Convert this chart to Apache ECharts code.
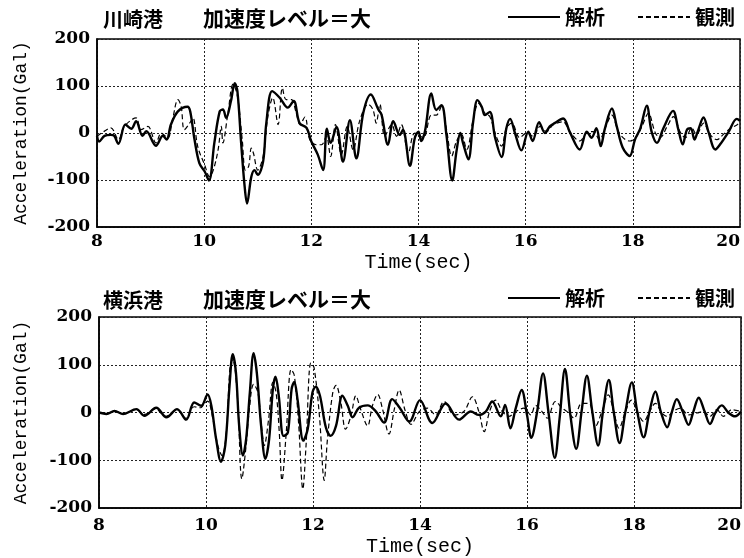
<!DOCTYPE html>
<html>
<head>
<meta charset="utf-8">
<script src="https://cdn.jsdelivr.net/npm/echarts@6/dist/echarts.min.js"></script>
<style>
html,body{margin:0;padding:0;background:#fff;}
#chart{width:744px;height:558px;}
</style>
</head>
<body>
<div id="chart"></div>
<script>
// ---- data (time in sec, acceleration in Gal) ----
const titlePort = ['川崎港', '横浜港'];
const titleLevel = '加速度レベル＝大';
const seriesNames = ['解析', '観測'];
const xTicks = { min: 8, max: 20, interval: 2 };
const yTicks = { min: -200, max: 200, interval: 100 };

// 川崎港 解析 (solid)
const kawasakiCalc = [
[8.00,-6],[8.04,-18],[8.14,-6],[8.26,-4],[8.32,-6],[8.40,-23],[8.53,18],[8.64,9],[8.73,25],[8.85,-6],
[8.92,4],[9.10,-27],[9.23,-6],[9.30,-14],[9.38,18],[9.51,46],[9.69,56],[9.74,46],[9.82,-14],[9.91,-64],
[10.01,-82],[10.09,-101],[10.19,-21],[10.29,46],[10.35,50],[10.41,32],[10.50,68],[10.57,106],[10.62,89],[10.69,-21],
[10.75,-107],[10.80,-150],[10.88,-93],[10.94,-79],[11.00,-89],[11.10,-61],[11.16,21],[11.27,89],[11.41,75],[11.56,54],
[11.67,68],[11.78,21],[11.91,11],[12.00,-18],[12.12,-46],[12.22,-79],[12.29,9],[12.36,-21],[12.47,13],[12.59,-61],
[12.72,27],[12.84,-54],[12.97,43],[13.11,82],[13.25,50],[13.31,39],[13.43,-25],[13.53,25],[13.65,-4],[13.71,7],
[13.84,-70],[13.93,-11],[14.00,3],[14.05,-17],[14.12,3],[14.24,84],[14.33,49],[14.43,59],[14.52,-3],[14.63,-101],
[14.71,-38],[14.78,0],[14.83,-21],[14.93,-56],[15.02,24],[15.10,70],[15.18,56],[15.24,38],[15.33,45],[15.43,-10],
[15.55,-51],[15.64,10],[15.71,30],[15.80,0],[15.92,-37],[16.05,3],[16.13,-17],[16.25,23],[16.36,0],[16.45,14],
[16.54,21],[16.70,31],[16.82,3],[17.01,-35],[17.14,3],[17.23,-10],[17.32,10],[17.40,-28],[17.48,10],[17.61,52],
[17.70,14],[17.81,-31],[17.94,-49],[18.04,-14],[18.14,10],[18.26,58],[18.35,3],[18.45,-21],[18.57,10],[18.75,47],
[18.85,7],[18.93,-24],[19.01,7],[19.08,10],[19.15,-14],[19.21,3],[19.32,33],[19.41,3],[19.54,-35],[19.63,-24],
[19.79,3],[19.94,30],[20.00,26]
];

// 川崎港 観測 (dashed)
const kawasakiObs = [
[8.00,-7],[8.14,4],[8.26,11],[8.40,-14],[8.51,14],[8.73,32],[8.82,7],[8.95,14],[9.10,-21],[9.20,0],
[9.32,-11],[9.41,29],[9.51,71],[9.57,57],[9.63,7],[9.73,21],[9.79,32],[9.88,-29],[10.01,-68],[10.10,-93],
[10.17,-79],[10.26,-36],[10.32,14],[10.35,-21],[10.44,39],[10.54,104],[10.62,79],[10.71,-14],[10.77,-79],[10.83,-71],
[10.88,-32],[10.92,-43],[11.00,-79],[11.10,-50],[11.19,36],[11.28,75],[11.38,18],[11.46,96],[11.53,71],[11.63,71],
[11.71,46],[11.79,18],[11.88,34],[11.97,-14],[12.09,-25],[12.19,-25],[12.28,-7],[12.36,-50],[12.45,18],[12.56,-46],
[12.67,14],[12.78,-36],[12.90,25],[13.06,61],[13.15,50],[13.21,21],[13.28,61],[13.37,-7],[13.50,18],[13.59,-7],
[13.68,18],[13.81,-43],[13.93,0],[14.09,-10],[14.24,38],[14.33,38],[14.43,56],[14.52,10],[14.62,-49],[14.71,-17],
[14.80,-3],[14.90,-35],[15.02,28],[15.12,63],[15.24,42],[15.33,35],[15.46,-10],[15.55,-28],[15.64,10],[15.74,21],
[15.89,-10],[16.02,0],[16.14,-7],[16.27,14],[16.39,3],[16.51,17],[16.70,24],[16.82,3],[17.01,-17],[17.14,0],
[17.26,3],[17.38,-14],[17.48,10],[17.61,38],[17.73,3],[17.86,-14],[17.95,-17],[18.07,-7],[18.17,14],[18.29,42],
[18.42,0],[18.51,-10],[18.64,14],[18.76,35],[18.88,3],[18.98,-10],[19.10,10],[19.19,-3],[19.32,21],[19.44,-3],
[19.57,-14],[19.69,-3],[19.82,10],[19.94,17],[20.00,24]
];

// 横浜港 解析 (solid)
const yokohamaCalc = [
[8.00,0],[8.14,-3],[8.29,3],[8.45,-3],[8.70,7],[8.85,-7],[9.07,10],[9.26,-10],[9.46,7],[9.63,-15],
[9.78,21],[9.91,14],[10.03,38],[10.10,14],[10.19,-56],[10.28,-103],[10.36,-69],[10.44,56],[10.50,122],[10.56,83],
[10.62,-28],[10.69,-90],[10.75,-56],[10.82,42],[10.89,124],[10.95,83],[11.03,-28],[11.11,-97],[11.18,-56],[11.25,49],
[11.30,75],[11.36,35],[11.45,-49],[11.53,-42],[11.60,49],[11.65,64],[11.71,28],[11.82,-59],[11.90,-35],[11.99,42],
[12.05,54],[12.13,35],[12.24,-31],[12.33,-49],[12.43,-28],[12.55,35],[12.65,14],[12.74,-10],[12.86,10],[13.02,15],
[13.17,3],[13.33,-21],[13.48,28],[13.62,10],[13.80,-19],[14.00,26],[14.23,-22],[14.48,19],[14.73,-15],[14.95,2],
[15.10,-5],[15.23,2],[15.35,23],[15.51,-8],[15.59,16],[15.69,-33],[15.79,9],[15.90,47],[16.00,-5],[16.08,-53],
[16.19,2],[16.30,82],[16.40,2],[16.52,-95],[16.61,-12],[16.71,91],[16.81,-5],[16.92,-76],[17.02,2],[17.12,77],
[17.22,2],[17.33,-69],[17.42,2],[17.53,68],[17.62,2],[17.73,-64],[17.84,2],[17.96,63],[18.06,2],[18.18,-52],
[18.29,2],[18.40,44],[18.50,2],[18.62,-31],[18.71,2],[18.80,28],[18.91,2],[19.02,-26],[19.11,2],[19.21,31],
[19.32,2],[19.42,-24],[19.52,-1],[19.64,15],[19.77,-1],[19.89,-8],[20.00,2]
];

// 横浜港 観測 (dashed)
const yokohamaObs = [
[8.00,0],[8.15,-2],[8.30,3],[8.45,-3],[8.70,6],[8.85,-4],[9.05,8],[9.25,-8],[9.45,6],[9.62,-12],
[9.78,12],[9.90,10],[9.94,14],[10.03,24],[10.13,-14],[10.22,-69],[10.30,-90],[10.38,-42],[10.45,97],[10.50,111],
[10.59,28],[10.67,-139],[10.75,-69],[10.81,7],[10.89,59],[10.97,42],[11.03,-21],[11.09,-69],[11.17,-14],[11.25,63],
[11.31,42],[11.37,-42],[11.42,-142],[11.50,-42],[11.59,90],[11.65,78],[11.73,-21],[11.81,-160],[11.87,-69],[11.96,104],
[12.02,94],[12.12,-7],[12.21,-142],[12.27,-56],[12.37,42],[12.43,57],[12.52,21],[12.61,-35],[12.71,-7],[12.80,35],
[12.89,7],[13.02,-28],[13.11,14],[13.21,38],[13.30,7],[13.42,-45],[13.52,7],[13.61,47],[13.72,5],[13.83,-25],
[13.99,2],[14.14,9],[14.29,-5],[14.45,23],[14.64,-5],[14.82,2],[14.98,33],[15.10,2],[15.20,-40],[15.30,2],
[15.41,26],[15.54,2],[15.66,-8],[15.79,2],[15.94,9],[16.07,-5],[16.16,15],[16.28,2],[16.38,-12],[16.53,23],
[16.66,9],[16.78,-1],[16.88,-12],[17.02,19],[17.16,19],[17.28,-29],[17.40,2],[17.52,37],[17.62,2],[17.72,-33],
[17.84,2],[17.95,26],[18.06,2],[18.18,-19],[18.29,2],[18.40,19],[18.52,-1],[18.62,-8],[18.74,3],[18.87,9],
[19.02,-5],[19.18,-1],[19.30,2],[19.42,-8],[19.55,6],[19.67,-8],[19.83,6],[20.00,2]
];

// ---- chart ----
const chart = echarts.init(document.getElementById('chart'), null, { renderer: 'canvas' });

const cjk = '"Noto Sans CJK JP", sans-serif';
const numFont = '"DejaVu Serif", serif';
const monoFont = '"Liberation Mono", monospace';

const grids = [
  { left: 97, top: 39, width: 643, height: 188 },
  { left: 99, top: 317, width: 644, height: 192 }
];

function makeX(i, labelMargin, nameGap) {
  return {
    type: 'value', gridIndex: i,
    min: xTicks.min, max: xTicks.max, interval: xTicks.interval,
    name: 'Time(sec)', nameLocation: 'middle', nameGap: nameGap,
    nameTextStyle: { fontFamily: monoFont, fontSize: 20, color: '#000' },
    axisLine: { show: true, onZero: false, lineStyle: { color: '#000', width: 1.5 } },
    axisTick: { show: false },
    axisLabel: { fontFamily: numFont, fontWeight: 'bold', fontSize: 17, color: '#000', margin: labelMargin, alignMaxLabel: 'right' },
    splitLine: { show: true, lineStyle: { color: '#222', width: 1, type: [2, 2] } }
  };
}
function makeY(i, nameGap) {
  return {
    type: 'value', gridIndex: i,
    min: yTicks.min, max: yTicks.max, interval: yTicks.interval,
    name: 'Acceleration(Gal)', nameLocation: 'middle', nameGap: nameGap,
    nameTextStyle: { fontFamily: monoFont, fontSize: 18, color: '#000' },
    axisLine: { show: true, onZero: false, lineStyle: { color: '#000', width: 1.5 } },
    axisTick: { show: false },
    axisLabel: { fontFamily: numFont, fontWeight: 'bold', fontSize: 17, color: '#000', margin: 7 },
    splitLine: { show: true, lineStyle: { color: '#222', width: 1, type: [2, 2] } }
  };
}

const titleStyle = { fontFamily: cjk, fontSize: 20, fontWeight: 'bold', color: '#000' };
const levelStyle = { fontFamily: cjk, fontSize: 21, fontWeight: 'bold', color: '#000' };
const legendBase = {
  data: seriesNames, left: 507, padding: 0,
  itemWidth: 52, itemHeight: 14, itemGap: 32,
  itemStyle: { color: 'transparent', borderColor: 'transparent', borderWidth: 0, opacity: 0 },
  textStyle: { fontFamily: cjk, fontSize: 20, fontWeight: 'bold', color: '#000' },
  selectedMode: false
};

function mkSeries(name, data, gi, dashed) {
  return {
    name: name, type: 'line', xAxisIndex: gi, yAxisIndex: gi,
    data: data, showSymbol: false, symbol: 'none', smooth: 0.35,
    color: '#000',
    itemStyle: { color: '#000' },
    lineStyle: dashed ? { color: '#000', width: 1.2, type: [5, 3] } : { color: '#000', width: 2.4, type: 'solid' },
    z: dashed ? 3 : 2
  };
}

chart.setOption({
  backgroundColor: '#fff',
  animation: false,
  color: ['#000', '#000'],
  title: [
    { text: titlePort[0], left: 103, top: 9, padding: 0, textStyle: titleStyle },
    { text: titleLevel, left: 203, top: 8, padding: 0, textStyle: levelStyle },
    { text: titlePort[1], left: 103, top: 290, padding: 0, textStyle: titleStyle },
    { text: titleLevel, left: 203, top: 289, padding: 0, textStyle: levelStyle }
  ],
  legend: [
    Object.assign({}, legendBase, { top: 7 }),
    Object.assign({}, legendBase, { top: 288 })
  ],
  grid: grids.map(g => Object.assign({ show: true, borderColor: '#000', borderWidth: 1.5, backgroundColor: 'transparent' }, g)),
  xAxis: [makeX(0, 6, 26), makeX(1, 9, 29)],
  yAxis: [makeY(0, 67), makeY(1, 69)],
  series: [
    mkSeries(seriesNames[0], kawasakiCalc, 0, false),
    mkSeries(seriesNames[1], kawasakiObs, 0, true),
    mkSeries(seriesNames[0], yokohamaCalc, 1, false),
    mkSeries(seriesNames[1], yokohamaObs, 1, true)
  ]
});
</script>
</body>
</html>
